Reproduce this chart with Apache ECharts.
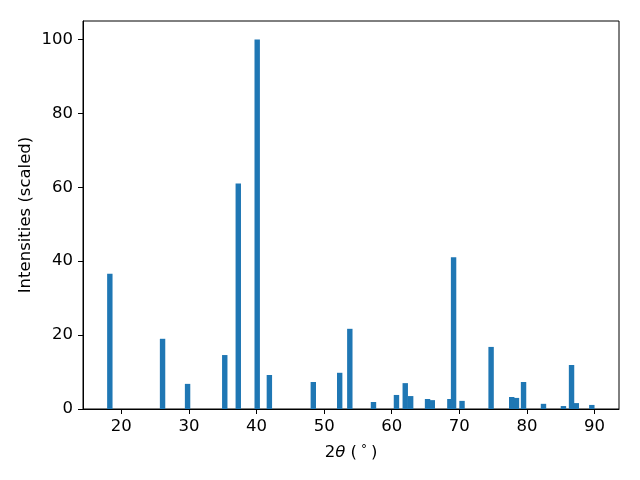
<!DOCTYPE html>
<html>
<head>
<meta charset="utf-8">
<script src="https://cdn.jsdelivr.net/npm/echarts@6/dist/echarts.min.js"></script>
<style>
html,body{margin:0;padding:0;background:#fff;}
#chart{width:640px;height:480px;}
</style>
</head>
<body>
<div id="chart"></div>
<script>
// Peak positions (2θ, degrees)
const positions = [18.3, 26.1, 29.8, 35.3, 37.3, 40.1, 41.9, 48.4, 52.3, 53.8, 57.3, 60.7, 62.0, 62.8, 65.3, 66.0, 68.6, 69.15, 70.4, 74.7, 77.75, 78.45, 79.5, 82.45, 85.4, 86.6, 87.3, 89.6];
// Scaled intensities
const intensities = [36.6, 19.0, 6.8, 14.6, 61.0, 100.0, 9.2, 7.3, 9.8, 21.7, 1.9, 3.8, 7.0, 3.5, 2.7, 2.4, 2.7, 41.1, 2.2, 16.8, 3.25, 3.0, 7.3, 1.4, 0.8, 11.9, 1.6, 1.1];
// Tick labels
const xTicks = [20, 30, 40, 50, 60, 70, 80, 90];
const yTicks = [0, 20, 40, 60, 80, 100];

const BAR_WIDTH = 0.8;
const FONT = 'DejaVu Sans';
const FS = 16.5;

const data = positions.map((p, i) => [p, intensities[i]]);

const chart = echarts.init(document.getElementById('chart'), null, {renderer: 'canvas'});
chart.setOption({
  animation: false,
  backgroundColor: '#ffffff',
  grid: {
    left: 83, right: 21, top: 21, bottom: 71,
    show: true, borderColor: '#000', borderWidth: 1, backgroundColor: 'transparent'
  },
  xAxis: {
    type: 'value',
    min: 14.33,
    max: 93.62,
    name: '{n|2}{i|θ}{n| (}{s|°}{n|)}',
    nameLocation: 'middle',
    nameGap: 35,
    nameMoveOverlap: false,
    nameTextStyle: {
      rich: {
        n: {fontFamily: FONT, fontSize: FS, color: '#000'},
        i: {fontFamily: FONT, fontSize: FS, fontStyle: 'italic', color: '#000'},
        s: {fontFamily: FONT, fontSize: 12, color: '#000', padding: [0, 4, 5, 4]}
      }
    },
    axisLine: {show: true, onZero: false, lineStyle: {color: '#000', width: 1}},
    axisTick: {show: true, length: 5, lineStyle: {color: '#000', width: 1}, customValues: xTicks},
    axisLabel: {show: true, margin: 9, fontFamily: FONT, fontSize: FS, color: '#000', customValues: xTicks},
    splitLine: {show: false}
  },
  yAxis: {
    type: 'value',
    min: 0,
    max: 105,
    name: 'Intensities (scaled)',
    nameLocation: 'middle',
    nameGap: 49,
    nameMoveOverlap: false,
    nameTextStyle: {fontFamily: FONT, fontSize: FS, color: '#000'},
    axisLine: {show: true, onZero: false, lineStyle: {color: '#000', width: 1}},
    axisTick: {show: true, length: 5, lineStyle: {color: '#000', width: 1}, customValues: yTicks},
    axisLabel: {show: true, margin: 10, fontFamily: FONT, fontSize: FS, color: '#000', customValues: yTicks},
    splitLine: {show: false}
  },
  series: [{
    type: 'custom',
    data: data,
    encode: {x: 0, y: 1},
    clip: true,
    renderItem: function (params, api) {
      const x = api.value(0), y = api.value(1);
      const p0 = api.coord([x - BAR_WIDTH / 2, y]);
      const p1 = api.coord([x + BAR_WIDTH / 2, 0]);
      return {
        type: 'rect',
        shape: {x: p0[0], y: p0[1], width: p1[0] - p0[0], height: p1[1] - p0[1]},
        style: {fill: '#1f77b4'}
      };
    }
  }]
});
</script>
</body>
</html>
